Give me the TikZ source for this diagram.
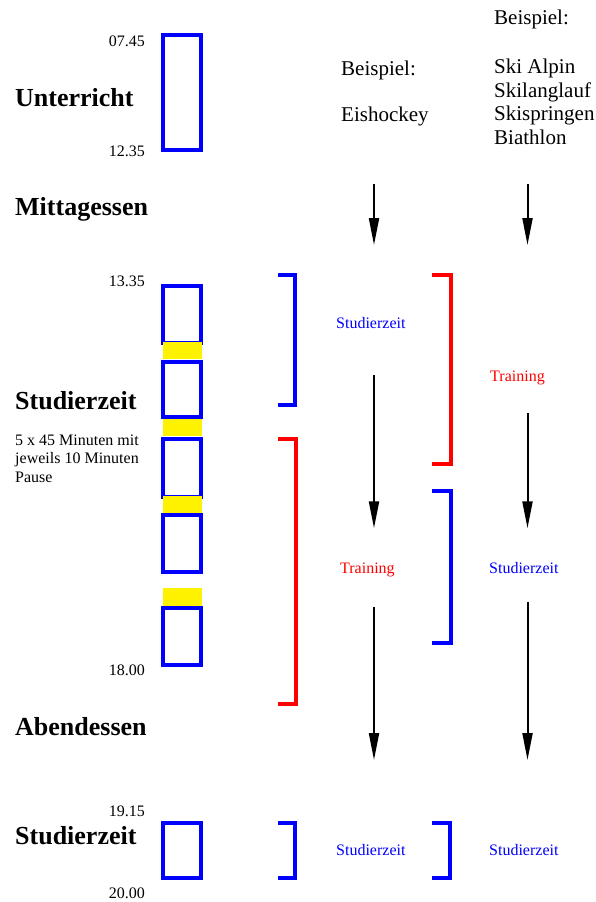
\documentclass[tikz,border=0pt]{standalone}
\usepackage{fontspec}
\setmainfont{Liberation Serif}
\usetikzlibrary{arrows.meta}
\tikzset{
  slot/.style={draw=blue,line width=4pt},
  gap/.style={fill=yellow},
  clampS/.style={draw=blue,line width=4pt},
  clampT/.style={draw=red,line width=4pt},
  flow/.style={-{Triangle[length=27pt,width=10pt]},line width=2pt},
  daypart/.style={anchor=base west,inner sep=0pt,font=\bfseries\fontsize{26}{30}\selectfont},
  clock/.style={anchor=base east,inner sep=0pt,font=\fontsize{16}{18}\selectfont},
  note/.style={anchor=base west,inner sep=0pt,align=left,font=\fontsize{16}{18.5}\selectfont},
  sport/.style={anchor=base west,inner sep=0pt,align=left,font=\fontsize{21}{23.5}\selectfont},
  lbl/.style={anchor=base west,inner sep=0pt,font=\fontsize{16}{18}\selectfont},
}
\begin{document}
\begin{tikzpicture}[x=1pt,y=-1pt]
\useasboundingbox (0,0) rectangle (596,902);
% Tagesablauf
\node[daypart] (unterricht) at (15,106) {Unterricht};
\node[daypart] (mittag) at (15,215) {Mittagessen};
\node[daypart] (studium) at (15,409.5) {Studierzeit};
\node[daypart] (abend) at (15,735.5) {Abendessen};
\node[daypart] (studium2) at (15,844) {Studierzeit};
% base = letzte Zeile
\node[note] (pause) at (15,482) {5 x 45 Minuten mit\\jeweils 10 Minuten\\Pause};
% Uhrzeiten
\node[clock] (t0745) at (145,46.5) {07.45};
\node[clock] (t1235) at (145,156.5) {12.35};
\node[clock] (t1335) at (145,286) {13.35};
\node[clock] (t1800) at (145,675) {18.00};
\node[clock] (t1915) at (145,816) {19.15};
\node[clock] (t2000) at (145,898) {20.00};
% Bloecke
\draw[slot] (163,35.3) rectangle (201,149.7);
\draw[slot] (163,286) rectangle (201,343);
\draw[slot] (163,362) rectangle (201,417.3);
\draw[slot] (163,438.7) rectangle (201,497);
\draw[slot] (163,515.3) rectangle (201,572.3);
\draw[slot] (163,607.7) rectangle (201,664.7);
\draw[slot] (163,823) rectangle (201,878);
\fill[gap] (162.7,341.7) rectangle (201.7,359.3);
\fill[gap] (162.7,419) rectangle (201.7,435.7);
\fill[gap] (162.7,495.7) rectangle (201.7,513.3);
\fill[gap] (162.7,587.7) rectangle (201.7,605.7);
% Eishockey
\node[sport] (bsp1) at (341,75) {Beispiel:};
\node[sport] (eis) at (341,121) {Eishockey};
\draw[clampS] (278,275) -- (295,275) -- (295,405) -- (278,405);
\draw[clampT] (278,438.7) -- (296,438.7) -- (296,703.7) -- (278,703.7);
\draw[clampS] (278,822.7) -- (295,822.7) -- (295,878) -- (278,878);
\node[lbl,blue] (eisS1) at (336,328.5) {Studierzeit};
\node[lbl,red] (eisT) at (340,573) {Training};
\node[lbl,blue] (eisS2) at (336,855) {Studierzeit};
\coordinate (eisA1) at (374,184);
\coordinate (eisB1) at (374,245);
\coordinate (eisA2) at (374,375);
\coordinate (eisB2) at (374,528.3);
\coordinate (eisA3) at (374,606.7);
\coordinate (eisB3) at (374,760);
\draw[flow] (eisA1) -- (eisB1);
\draw[flow] (eisA2) -- (eisB2);
\draw[flow] (eisA3) -- (eisB3);
% Ski
\node[sport] (bsp2) at (494,24) {Beispiel:};
\node[sport] (ski) at (494,144) {Ski Alpin\\Skilanglauf\\Skispringen\\Biathlon};
\draw[clampT] (432,274.7) -- (450.7,274.7) -- (450.7,463.7) -- (432,463.7);
\draw[clampS] (432,491.3) -- (450.7,491.3) -- (450.7,643) -- (432,643);
\draw[clampS] (432,822.7) -- (450,822.7) -- (450,878) -- (432,878);
\node[lbl,red] (skiT) at (490,381) {Training};
\node[lbl,blue] (skiS1) at (489,573.5) {Studierzeit};
\node[lbl,blue] (skiS2) at (489,855) {Studierzeit};
\coordinate (skiA1) at (527.5,184);
\coordinate (skiB1) at (527.5,245);
\coordinate (skiA2) at (527.5,413.3);
\coordinate (skiB2) at (527.5,528.3);
\coordinate (skiA3) at (527.5,601.7);
\coordinate (skiB3) at (527.5,760);
\draw[flow] (skiA1) -- (skiB1);
\draw[flow] (skiA2) -- (skiB2);
\draw[flow] (skiA3) -- (skiB3);
\end{tikzpicture}
\end{document}
